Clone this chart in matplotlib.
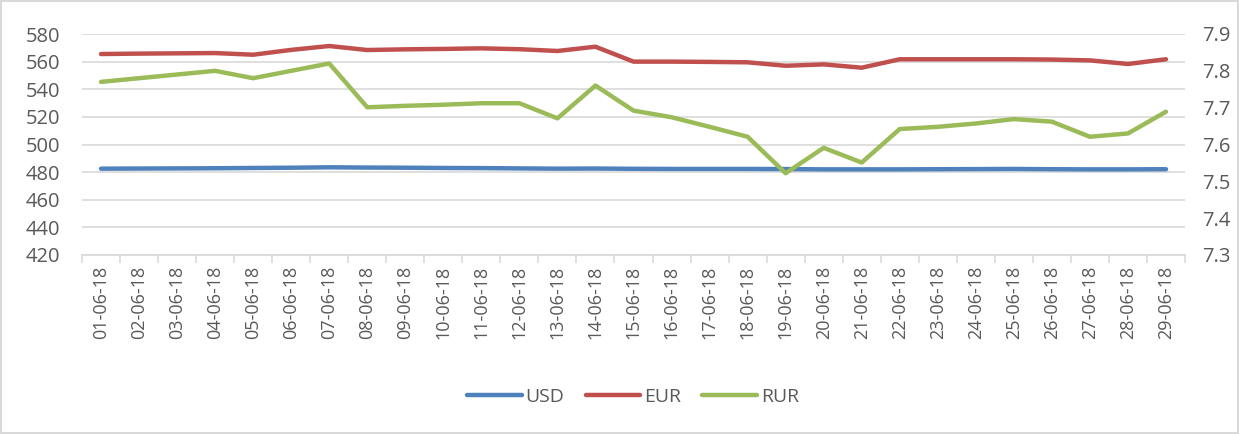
import matplotlib
matplotlib.use("Agg")
import matplotlib.pyplot as plt
from matplotlib.lines import Line2D
from matplotlib.ticker import FixedLocator, NullFormatter

dates = ["01-06-18", "02-06-18", "03-06-18", "04-06-18", "05-06-18", "06-06-18", "07-06-18",
         "08-06-18", "09-06-18", "10-06-18", "11-06-18", "12-06-18", "13-06-18", "14-06-18",
         "15-06-18", "16-06-18", "17-06-18", "18-06-18", "19-06-18", "20-06-18", "21-06-18",
         "22-06-18", "23-06-18", "24-06-18", "25-06-18", "26-06-18", "27-06-18", "28-06-18",
         "29-06-18"]
usd = [482.5, 482.6, 482.7, 482.8, 483.0, 483.2, 483.5, 483.3, 483.2, 483.0, 482.9, 482.7,
       482.5, 482.6, 482.4, 482.3, 482.3, 482.3, 482.2, 482.0, 482.0, 482.0, 482.1, 482.2,
       482.3, 482.1, 482.0, 482.0, 482.1]
eur = [565.5, 565.8, 566.0, 566.2, 565.0, 568.5, 571.3, 568.4, 568.9, 569.2, 569.6, 569.0,
       567.7, 570.8, 560.0, 560.0, 559.8, 559.5, 557.0, 558.0, 555.6, 561.7, 561.7, 561.7,
       561.7, 561.5, 560.9, 558.3, 561.7]
rur = [7.770, 7.780, 7.790, 7.800, 7.780, 7.800, 7.820, 7.701, 7.705, 7.708, 7.712, 7.712,
       7.671, 7.760, 7.692, 7.674, 7.648, 7.621, 7.522, 7.591, 7.551, 7.642, 7.648, 7.657,
       7.669, 7.662, 7.621, 7.630, 7.689]

left_ticks = [420, 440, 460, 480, 500, 520, 540, 560, 580]
right_ticks = [7.3, 7.4, 7.5, 7.6, 7.7, 7.8, 7.9]

plt.rcParams['font.family'] = ['Open Sans', 'DejaVu Sans']
txt = '#595959'
grid_c = '#d9d9d9'
c_usd, c_eur, c_rur = '#4f81bd', '#c0504d', '#9bbb59'

fig = plt.figure(figsize=(12.39, 4.34), dpi=100)
fig.patch.set_edgecolor('#d9d9d9')
fig.patch.set_linewidth(1.5)
ax = fig.add_axes([82/1239, 1-255/434, (1185-82)/1239, (255-34)/434])
ax2 = ax.twinx()

x = list(range(len(dates)))
lw = 3.2
ax.plot(x, usd, color=c_usd, lw=lw, solid_capstyle='round', solid_joinstyle='round', zorder=3)
ax.plot(x, eur, color=c_eur, lw=lw, solid_capstyle='round', solid_joinstyle='round', zorder=3)
ax2.plot(x, rur, color=c_rur, lw=lw, solid_capstyle='round', solid_joinstyle='round', zorder=3)

ax.set_ylim(420, 580)
ax2.set_ylim(7.3, 7.9)
ax.set_xlim(-0.5, len(dates) - 0.5)
ax.set_yticks(left_ticks)
ax2.set_yticks(right_ticks)
ax2.set_yticklabels([f"{v:.1f}" for v in right_ticks])
ax.grid(axis='y', color=grid_c, lw=1.2, zorder=0)
ax.set_axisbelow(True)

ax.set_xticks(x)
ax.set_xticklabels(dates, rotation=90, fontsize=13, color=txt)
ax.tick_params(axis='x', which='major', length=0, pad=8)
ax.xaxis.set_minor_locator(FixedLocator([i - 0.5 for i in range(len(dates) + 1)]))
ax.xaxis.set_minor_formatter(NullFormatter())
ax.tick_params(axis='x', which='minor', length=6, color=grid_c, width=1.2)

ax.tick_params(axis='y', length=0, labelsize=14.5, labelcolor=txt, pad=16)
ax2.tick_params(axis='y', length=0, labelsize=14.5, labelcolor=txt, pad=12)

for a in (ax, ax2):
    for s in a.spines.values():
        s.set_visible(False)
ax.spines['bottom'].set_visible(True)
ax.spines['bottom'].set_color(grid_c)
ax.spines['bottom'].set_linewidth(1.2)

handles = [Line2D([], [], color=c, lw=lw, solid_capstyle='round') for c in (c_usd, c_eur, c_rur)]
fig.legend(handles, ['USD', 'EUR', 'RUR'], loc='center', bbox_to_anchor=(633/1239, 1-397/434),
           ncol=3, frameon=False, fontsize=14, handlelength=2.8, columnspacing=1.1,
           handletextpad=0.2, labelcolor=txt)

fig.savefig('out.png', dpi=100, edgecolor=fig.get_edgecolor())
